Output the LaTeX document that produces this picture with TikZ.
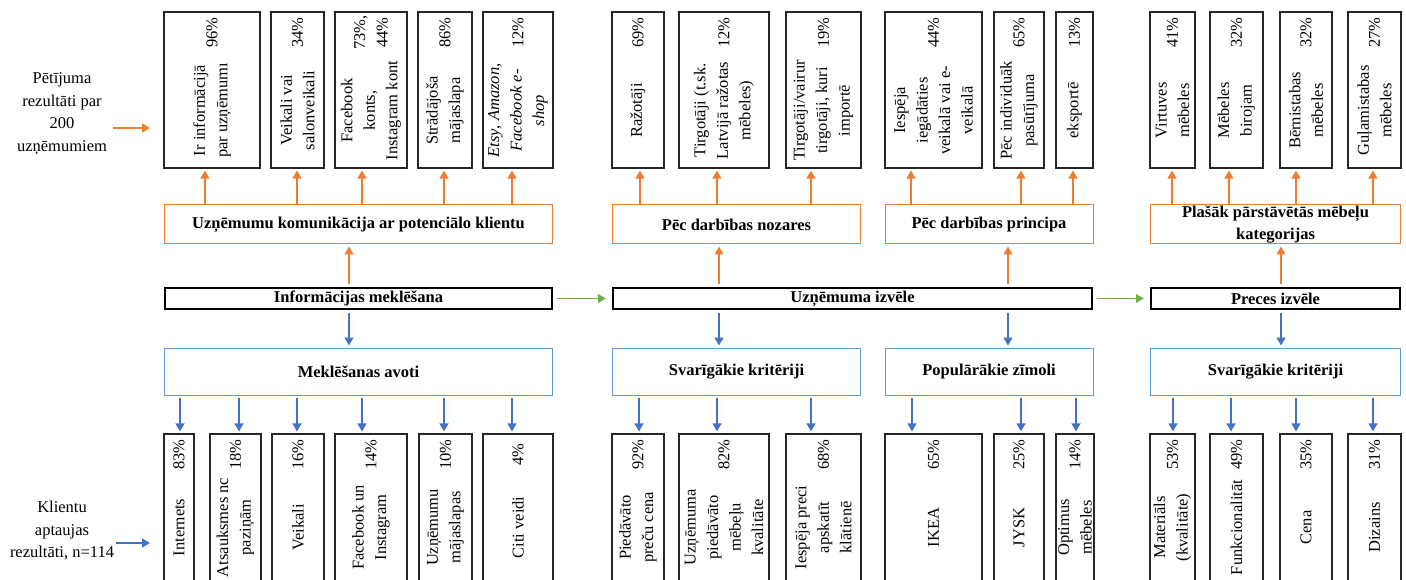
\documentclass[tikz,border=0pt]{standalone}
\usepackage{fontspec}
\setmainfont{Liberation Serif}
\usepackage{xcolor}
\usepackage{tikz}
\usetikzlibrary{arrows.meta}

\definecolor{orng}{HTML}{ED7D31}
\definecolor{blu}{HTML}{4472C4}
\definecolor{bluline}{HTML}{5B9BD5}
\definecolor{grn}{HTML}{70AD47}
\newcommand\nodefont{\fontsize{16.5}{22.5}\selectfont}

\begin{document}
\begin{tikzpicture}[x=1pt, y=-1pt, font=\nodefont,
    databox/.style={draw=black!85, line width=1.1pt, inner sep=0pt, minimum height=156},
    vlbl/.style={rotate=90, align=center, inner sep=0pt},
    stagebox/.style={draw=black, line width=2.4pt, inner sep=1pt, minimum height=21, font=\nodefont\bfseries},
    outbox/.style={draw=orng, line width=1pt, inner sep=0pt, minimum height=39, align=center, font=\nodefont\bfseries},
    inbox/.style={draw=bluline, line width=1pt, inner sep=0pt, minimum height=47, font=\nodefont\bfseries},
    uparr/.style={draw=orng, line width=1.3pt, -{Triangle[length=8pt,width=9pt]}, shorten >=2pt},
    downarr/.style={draw=blu, line width=1.3pt, -{Triangle[length=8pt,width=9pt]}, shorten >=2pt},
    nextarr/.style={draw=grn, line width=1.3pt, -{Triangle[length=8pt,width=9pt]}, shorten <=4pt, shorten >=6pt}]
    \useasboundingbox (0,0) rectangle (1406,580);
    \clip (0,0) rectangle (1406,580);

    % left side
    \node[align=center, inner sep=6pt] (respl) at (62,114) {Pētījuma\\rezultāti par\\200\\uzņēmumiem};
    \node[align=center, inner sep=2pt] (klpl) at (62,531) {Klientu\\aptaujas\\rezultāti, n=114};
    \coordinate (resin) at (150,128);
    \coordinate (klin) at (150,543);
    \draw[uparr, shorten >=0pt] (respl.east |- resin) -- (resin);
    \draw[downarr, shorten >=0pt] (klpl.east |- klin) -- (klin);

    % stages
    \node[stagebox, minimum width=387] (infm) at (358.5,298.5) {Informācijas meklēšana};
    \node[stagebox, minimum width=479] (izv) at (852.5,298.5) {Uzņēmuma izvēle};
    \node[stagebox, minimum width=249] (preces) at (1275.5,298.5) {Preces izvēle};
    \draw[nextarr] (infm) -- (izv);
    \draw[nextarr] (izv) -- (preces);

    % upper groups
    \node[outbox, minimum width=388] (kom) at (358.5,224.5) {Uzņēmumu komunikācija ar potenciālo klientu};
    \node[outbox, minimum width=248] (nozares) at (736.5,224.5) {Pēc darbības nozares};
    \node[outbox, minimum width=208] (princ) at (989,224.5) {Pēc darbības principa};
    \node[outbox, minimum width=250] (plasak) at (1275.5,224.5) {Plašāk pārstāvētās mēbeļu\\kategorijas};

    % lower groups
    \node[inbox, minimum width=388] (avoti) at (358.5,371.5) {Meklēšanas avoti};
    \node[inbox, minimum width=248] (krit) at (736.5,371.5) {Svarīgākie kritēriji};
    \node[inbox, minimum width=208] (zimoli) at (989,371.5) {Populārākie zīmoli};
    \node[inbox, minimum width=250] (krit2) at (1275.5,371.5) {Svarīgākie kritēriji};

    \draw[uparr, shorten <=3pt] (infm.north -| 349,0) -- (kom.south -| 349,0);
    \draw[uparr, shorten <=3pt] (izv.north -| 719,0) -- (nozares.south -| 719,0);
    \draw[uparr, shorten <=3pt] (izv.north -| 1008,0) -- (princ.south -| 1008,0);
    \draw[uparr, shorten <=3pt] (preces.north -| 1281,0) -- (plasak.south -| 1281,0);
    \draw[downarr, shorten <=3pt] (infm.south -| 349,0) -- (avoti.north -| 349,0);
    \draw[downarr, shorten <=3pt] (izv.south -| 719,0) -- (krit.north -| 719,0);
    \draw[downarr, shorten <=3pt] (izv.south -| 1008,0) -- (zimoli.north -| 1008,0);
    \draw[downarr, shorten <=3pt] (preces.south -| 1281,0) -- (krit2.north -| 1281,0);

    % survey of companies
    \node[databox, minimum width=96] (ir) at (212,90) {};
    \node[vlbl] at ([yshift=-99pt]ir.north) {Ir informācijā\\par uzņēmumı};
    \node[vlbl] at ([yshift=-21pt]ir.north) {96\%};
    \node[databox, minimum width=53] (salon) at (297.5,90) {};
    \node[vlbl] at ([yshift=-99pt]salon.north) {Veikali vai\\salonveikali};
    \node[vlbl] at ([yshift=-21pt]salon.north) {34\%};
    \node[databox, minimum width=72] (fb) at (371,90) {};
    \node[vlbl] at ([yshift=-99pt]fb.north) {Facebook\\konts,\\Instagram kont};
    \node[vlbl] at ([yshift=-21pt]fb.north) {73\%,\\44\%};
    \node[databox, minimum width=54] (maja) at (445,90) {};
    \node[vlbl] at ([yshift=-99pt]maja.north) {Strādājoša\\mājaslapa};
    \node[vlbl] at ([yshift=-21pt]maja.north) {86\%};
    \node[databox, minimum width=70] (etsy) at (518,90) {};
    \node[vlbl] at ([yshift=-99pt]etsy.north) {\textit{Etsy}, \textit{Amazon},\\\textit{Facebook e-}\\\textit{shop}};
    \node[vlbl] at ([yshift=-21pt]etsy.north) {12\%};
    \node[databox, minimum width=52] (razot) at (638,90) {};
    \node[vlbl] at ([yshift=-99pt]razot.north) {Ražotāji};
    \node[vlbl] at ([yshift=-21pt]razot.north) {69\%};
    \node[databox, minimum width=90] (tirg) at (724,90) {};
    \node[vlbl] at ([yshift=-99pt]tirg.north) {Tirgotāji (t.sk.\\Latvijā ražotas\\mēbeles)};
    \node[vlbl] at ([yshift=-21pt]tirg.north) {12\%};
    \node[databox, minimum width=75] (imp) at (823.5,90) {};
    \node[vlbl] at ([yshift=-99pt]imp.north) {Tirgotāji/vairur\\tirgotāji, kuri\\importē};
    \node[vlbl] at ([yshift=-21pt]imp.north) {19\%};
    \node[databox, minimum width=97] (iegad) at (933.5,90) {};
    \node[vlbl] at ([yshift=-99pt]iegad.north) {Iespēja\\iegādāties\\veikalā vai e-\\veikalā};
    \node[vlbl] at ([yshift=-21pt]iegad.north) {44\%};
    \node[databox, minimum width=50] (indiv) at (1019,90) {};
    \node[vlbl] at ([yshift=-99pt]indiv.north) {Pēc individuāk\\pasūtījuma};
    \node[vlbl] at ([yshift=-21pt]indiv.north) {65\%};
    \node[databox, minimum width=37] (eksp) at (1074.5,90) {};
    \node[vlbl] at ([yshift=-99pt]eksp.north) {eksportē};
    \node[vlbl] at ([yshift=-21pt]eksp.north) {13\%};
    \node[databox, minimum width=45] (virt) at (1172.5,90) {};
    \node[vlbl] at ([yshift=-99pt]virt.north) {Virtuves\\mēbeles};
    \node[vlbl] at ([yshift=-21pt]virt.north) {41\%};
    \node[databox, minimum width=53] (biroj) at (1236.5,90) {};
    \node[vlbl] at ([yshift=-99pt]biroj.north) {Mēbeles\\birojam};
    \node[vlbl] at ([yshift=-21pt]biroj.north) {32\%};
    \node[databox, minimum width=52] (bern) at (1306,90) {};
    \node[vlbl] at ([yshift=-99pt]bern.north) {Bērnistabas\\mēbeles};
    \node[vlbl] at ([yshift=-21pt]bern.north) {32\%};
    \node[databox, minimum width=53] (gul) at (1374.5,90) {};
    \node[vlbl] at ([yshift=-99pt]gul.north) {Guļamistabas\\mēbeles};
    \node[vlbl] at ([yshift=-21pt]gul.north) {27\%};

    \draw[uparr] (kom.north -| 205,0) -- (ir.south -| 205,0);
    \draw[uparr] (kom.north -| 297,0) -- (salon.south -| 297,0);
    \draw[uparr] (kom.north -| 362,0) -- (fb.south -| 362,0);
    \draw[uparr] (kom.north -| 444,0) -- (maja.south -| 444,0);
    \draw[uparr] (kom.north -| 512,0) -- (etsy.south -| 512,0);
    \draw[uparr] (nozares.north -| 640,0) -- (razot.south -| 640,0);
    \draw[uparr] (nozares.north -| 717,0) -- (tirg.south -| 717,0);
    \draw[uparr] (nozares.north -| 811,0) -- (imp.south -| 811,0);
    \draw[uparr] (princ.north -| 911,0) -- (iegad.south -| 911,0);
    \draw[uparr] (princ.north -| 1021,0) -- (indiv.south -| 1021,0);
    \draw[uparr] (princ.north -| 1073,0) -- (eksp.south -| 1073,0);
    \draw[uparr] (plasak.north -| 1172,0) -- (virt.south -| 1172,0);
    \draw[uparr] (plasak.north -| 1229,0) -- (biroj.south -| 1229,0);
    \draw[uparr] (plasak.north -| 1296,0) -- (bern.south -| 1296,0);
    \draw[uparr] (plasak.north -| 1373,0) -- (gul.south -| 1373,0);

    % survey of clients
    \node[databox, minimum width=30] (inet) at (179,512) {};
    \node[vlbl] at ([yshift=-94pt]inet.north) {Internets};
    \node[vlbl] at ([yshift=-21pt]inet.north) {83\%};
    \node[databox, minimum width=51] (atsk) at (235.5,512) {};
    \node[vlbl] at ([yshift=-94pt]atsk.north) {Atsauksmes nc\\paziņām};
    \node[vlbl] at ([yshift=-21pt]atsk.north) {18\%};
    \node[databox, minimum width=52] (veik) at (298,512) {};
    \node[vlbl] at ([yshift=-94pt]veik.north) {Veikali};
    \node[vlbl] at ([yshift=-21pt]veik.north) {16\%};
    \node[databox, minimum width=72] (fbig) at (371,512) {};
    \node[vlbl] at ([yshift=-94pt]fbig.north) {Facebook un\\Instagram};
    \node[vlbl] at ([yshift=-21pt]fbig.north) {14\%};
    \node[databox, minimum width=53] (majl) at (445.5,512) {};
    \node[vlbl] at ([yshift=-94pt]majl.north) {Uzņēmumu\\mājaslapas};
    \node[vlbl] at ([yshift=-21pt]majl.north) {10\%};
    \node[databox, minimum width=70] (citi) at (518,512) {};
    \node[vlbl] at ([yshift=-94pt]citi.north) {Citi veidi};
    \node[vlbl] at ([yshift=-21pt]citi.north) {4\%};
    \node[databox, minimum width=52] (cena) at (638,512) {};
    \node[vlbl] at ([yshift=-94pt]cena.north) {Piedāvāto\\preču cena};
    \node[vlbl] at ([yshift=-21pt]cena.north) {92\%};
    \node[databox, minimum width=90] (kval) at (724,512) {};
    \node[vlbl] at ([yshift=-94pt]kval.north) {Uzņēmuma\\piedāvāto\\mēbeļu\\kvalitāte};
    \node[vlbl] at ([yshift=-21pt]kval.north) {82\%};
    \node[databox, minimum width=75] (klat) at (823.5,512) {};
    \node[vlbl] at ([yshift=-94pt]klat.north) {Iespēja preci\\apskatīt\\klātienē};
    \node[vlbl] at ([yshift=-21pt]klat.north) {68\%};
    \node[databox, minimum width=97] (ikea) at (933.5,512) {};
    \node[vlbl] at ([yshift=-94pt]ikea.north) {IKEA};
    \node[vlbl] at ([yshift=-21pt]ikea.north) {65\%};
    \node[databox, minimum width=50] (jysk) at (1019,512) {};
    \node[vlbl] at ([yshift=-94pt]jysk.north) {JYSK};
    \node[vlbl] at ([yshift=-21pt]jysk.north) {25\%};
    \node[databox, minimum width=38] (optim) at (1075,512) {};
    \node[vlbl] at ([yshift=-94pt]optim.north) {Optimus\\mēbeles};
    \node[vlbl] at ([yshift=-21pt]optim.north) {14\%};
    \node[databox, minimum width=45] (mater) at (1172.5,512) {};
    \node[vlbl] at ([yshift=-94pt]mater.north) {Materiāls\\(kvalitāte)};
    \node[vlbl] at ([yshift=-21pt]mater.north) {53\%};
    \node[databox, minimum width=53] (funk) at (1236.5,512) {};
    \node[vlbl] at ([yshift=-94pt]funk.north) {Funkcionalitāt};
    \node[vlbl] at ([yshift=-21pt]funk.north) {49\%};
    \node[databox, minimum width=52] (cenap) at (1306,512) {};
    \node[vlbl] at ([yshift=-94pt]cenap.north) {Cena};
    \node[vlbl] at ([yshift=-21pt]cenap.north) {35\%};
    \node[databox, minimum width=53] (diz) at (1374.5,512) {};
    \node[vlbl] at ([yshift=-94pt]diz.north) {Dizains};
    \node[vlbl] at ([yshift=-21pt]diz.north) {31\%};

    \draw[downarr, shorten <=2pt] (avoti.south -| 180,0) -- (inet.north -| 180,0);
    \draw[downarr, shorten <=2pt] (avoti.south -| 239,0) -- (atsk.north -| 239,0);
    \draw[downarr, shorten <=2pt] (avoti.south -| 297,0) -- (veik.north -| 297,0);
    \draw[downarr, shorten <=2pt] (avoti.south -| 362,0) -- (fbig.north -| 362,0);
    \draw[downarr, shorten <=2pt] (avoti.south -| 444,0) -- (majl.north -| 444,0);
    \draw[downarr, shorten <=2pt] (avoti.south -| 512,0) -- (citi.north -| 512,0);
    \draw[downarr, shorten <=2pt] (krit.south -| 639,0) -- (cena.north -| 639,0);
    \draw[downarr, shorten <=2pt] (krit.south -| 717,0) -- (kval.north -| 717,0);
    \draw[downarr, shorten <=2pt] (krit.south -| 811,0) -- (klat.north -| 811,0);
    \draw[downarr, shorten <=2pt] (zimoli.south -| 912,0) -- (ikea.north -| 912,0);
    \draw[downarr, shorten <=2pt] (zimoli.south -| 1021,0) -- (jysk.north -| 1021,0);
    \draw[downarr, shorten <=2pt] (zimoli.south -| 1076,0) -- (optim.north -| 1076,0);
    \draw[downarr, shorten <=2pt] (krit2.south -| 1173,0) -- (mater.north -| 1173,0);
    \draw[downarr, shorten <=2pt] (krit2.south -| 1231,0) -- (funk.north -| 1231,0);
    \draw[downarr, shorten <=2pt] (krit2.south -| 1296,0) -- (cenap.north -| 1296,0);
    \draw[downarr, shorten <=2pt] (krit2.south -| 1373,0) -- (diz.north -| 1373,0);
\end{tikzpicture}
\end{document}
